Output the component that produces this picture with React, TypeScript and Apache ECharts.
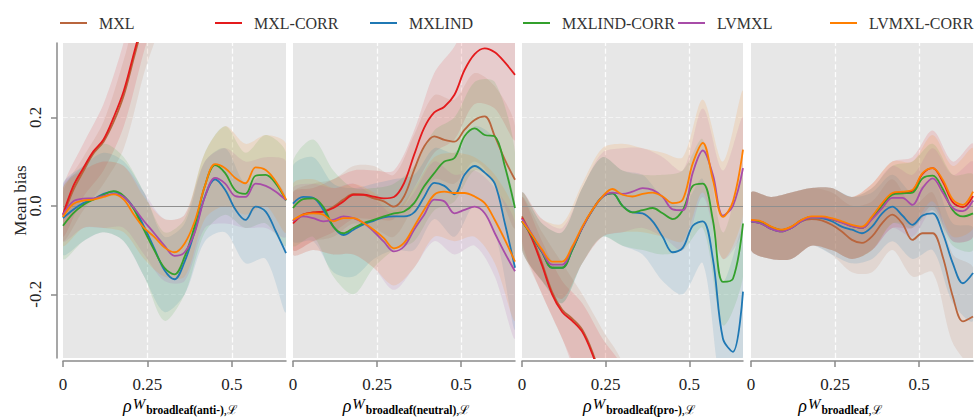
import React, { useEffect, useRef } from 'react';
import * as echarts from 'echarts';

const SERIES_NAMES = ['MXL', 'MXL-CORR', 'MXLIND', 'MXLIND-CORR', 'LVMXL', 'LVMXL-CORR'];
const COLORS = ['#b9653d', '#e41a1c', '#1f78b4', '#33a02c', '#a84ca8', '#ff7f00'];
const PANEL_SUBSCRIPTS = ['broadleaf(anti-)', 'broadleaf(neutral)', 'broadleaf(pro-)', 'broadleaf'];
const X_TICKS = [0, 0.25, 0.5];
const Y_TICKS = [-0.2, 0, 0.2];
const Y_NAME = 'Mean bias';

// x positions of the smoothed lines and of the band edges
const X = [0, 0.03, 0.06, 0.09, 0.12, 0.15, 0.18, 0.21, 0.24, 0.27, 0.3, 0.33, 0.36, 0.39, 0.42, 0.45, 0.48, 0.51, 0.54, 0.57, 0.6, 0.63, 0.66];
const BX = [0, 0.06, 0.12, 0.18, 0.24, 0.3, 0.36, 0.42, 0.48, 0.54, 0.6, 0.66];

const N = null;

// ---- Panel 1: broadleaf(anti-) ----
const P1_MXL = [-0.025, 0.035, 0.078, 0.118, 0.145, 0.19, 0.25, 0.335, 0.42, N, N, N, N, N, N, N, N, N, N, N, N, N, N];
const P1_MXL_CORR = [-0.02, 0.044, 0.085, 0.123, 0.15, 0.2, 0.26, 0.345, 0.43, N, N, N, N, N, N, N, N, N, N, N, N, N, N];
const P1_MXLIND = [-0.028, -0.009, 0.006, 0.015, 0.027, 0.032, 0.021, -0.005, -0.047, -0.096, -0.145, -0.166, -0.126, -0.058, 0.021, 0.06, 0.036, -0.008, -0.032, -0.002, -0.013, -0.058, -0.107];
const P1_MXLIND_CORR = [-0.045, -0.017, 0.002, 0.014, 0.025, 0.033, 0.022, -0.008, -0.055, -0.1, -0.14, -0.155, -0.115, -0.045, 0.045, 0.092, 0.074, 0.035, 0.027, 0.068, 0.07, 0.05, 0.012];
const P1_LVMXL = [-0.02, 0.01, 0.016, 0.017, 0.022, 0.027, 0.02, -0.005, -0.035, -0.062, -0.09, -0.113, -0.105, -0.06, 0.02, 0.063, 0.05, 0.022, 0.02, 0.05, 0.045, 0.032, 0.013];
const P1_LVMXL_CORR = [-0.025, 0.004, 0.012, 0.014, 0.02, 0.026, 0.014, -0.02, -0.05, -0.07, -0.094, -0.105, -0.085, -0.035, 0.045, 0.094, 0.085, 0.063, 0.051, 0.087, 0.081, 0.055, 0.014];

const P1_MXL_LO = [-0.08, -0.01, 0.05, 0.13, 0.3, 0.45, N, N, N, N, N, N];
const P1_MXL_HI = [0.03, 0.11, 0.19, 0.33, 0.5, 0.6, N, N, N, N, N, N];
const P1_MXL_CORR_LO = [-0.07, 0.02, 0.08, 0.18, 0.35, 0.5, N, N, N, N, N, N];
const P1_MXL_CORR_HI = [0.04, 0.14, 0.23, 0.37, 0.55, 0.65, N, N, N, N, N, N];
const P1_MXLIND_LO = [-0.11, -0.08, -0.06, -0.08, -0.16, -0.24, -0.2, -0.08, -0.06, -0.13, -0.12, -0.24];
const P1_MXLIND_HI = [0.05, 0.09, 0.12, 0.1, 0.03, -0.07, -0.04, 0.1, 0.13, 0.05, 0.07, 0.02];
const P1_MXLIND_CORR_LO = [-0.12, -0.08, -0.06, -0.08, -0.16, -0.26, -0.2, -0.06, -0.02, -0.05, -0.04, -0.09];
const P1_MXLIND_CORR_HI = [0.04, 0.09, 0.14, 0.11, 0.03, -0.06, -0.03, 0.12, 0.18, 0.12, 0.16, 0.12];
const P1_LVMXL_LO = [-0.08, -0.05, -0.05, -0.05, -0.11, -0.17, -0.17, -0.05, -0.04, -0.05, -0.05, -0.07];
const P1_LVMXL_HI = [0.05, 0.08, 0.1, 0.09, 0.03, -0.03, -0.02, 0.1, 0.13, 0.1, 0.11, 0.1];
const P1_LVMXL_CORR_LO = [-0.09, -0.05, -0.05, -0.06, -0.12, -0.16, -0.16, -0.03, 0.0, -0.02, 0.0, -0.06];
const P1_LVMXL_CORR_HI = [0.04, 0.08, 0.1, 0.09, 0.02, -0.03, -0.02, 0.12, 0.18, 0.14, 0.16, 0.14];

// ---- Panel 2: broadleaf(neutral) ----
const P2_MXL = [-0.035, -0.02, -0.015, -0.013, -0.002, 0.014, 0.027, 0.025, 0.017, 0.01, -0.002, 0.021, 0.081, 0.134, 0.157, 0.149, 0.145, 0.172, 0.194, 0.202, 0.157, 0.104, 0.059];
const P2_MXL_CORR = [-0.04, -0.02, -0.015, -0.013, -0.005, 0.01, 0.025, 0.025, 0.021, 0.017, 0.02, 0.051, 0.115, 0.176, 0.211, 0.224, 0.251, 0.307, 0.343, 0.356, 0.347, 0.324, 0.296];
const P2_MXLIND = [0.005, 0.02, 0.018, -0.009, -0.047, -0.066, -0.054, -0.042, -0.034, -0.026, -0.024, -0.024, -0.015, 0.02, 0.052, 0.045, 0.026, 0.07, 0.09, 0.075, 0.05, -0.04, -0.14];
const P2_MXLIND_CORR = [-0.005, 0.015, 0.017, -0.002, -0.047, -0.062, -0.05, -0.039, -0.032, -0.024, -0.017, -0.013, 0.006, 0.044, 0.074, 0.1, 0.108, 0.157, 0.175, 0.16, 0.157, 0.089, -0.005];
const P2_LVMXL = [-0.035, -0.024, -0.028, -0.035, -0.032, -0.024, -0.028, -0.039, -0.058, -0.081, -0.103, -0.092, -0.054, -0.02, 0.014, 0.01, -0.017, -0.009, -0.002, -0.017, -0.062, -0.107, -0.148];
const P2_LVMXL_CORR = [-0.032, -0.02, -0.017, -0.02, -0.035, -0.028, -0.028, -0.039, -0.054, -0.073, -0.096, -0.084, -0.047, -0.009, 0.025, 0.032, 0.029, 0.029, 0.021, 0.006, -0.032, -0.077, -0.126];

const P2_MXL_LO = [-0.1, -0.08, -0.07, -0.04, -0.05, -0.07, 0.0, 0.06, 0.05, 0.1, 0.05, -0.05];
const P2_MXL_HI = [0.03, 0.05, 0.06, 0.09, 0.09, 0.07, 0.16, 0.25, 0.24, 0.3, 0.27, 0.18];
const P2_MXL_CORR_LO = [-0.1, -0.08, -0.06, -0.03, -0.03, -0.03, 0.04, 0.12, 0.15, 0.23, 0.22, 0.15];
const P2_MXL_CORR_HI = [0.03, 0.04, 0.06, 0.08, 0.08, 0.08, 0.17, 0.3, 0.36, 0.45, 0.48, 0.45];
const P2_MXLIND_LO = [-0.08, -0.08, -0.15, -0.16, -0.12, -0.1, -0.1, -0.03, -0.07, 0.0, -0.06, -0.28];
const P2_MXLIND_HI = [0.09, 0.11, 0.05, 0.04, 0.05, 0.06, 0.07, 0.13, 0.12, 0.18, 0.15, 0.0];
const P2_MXLIND_CORR_LO = [-0.09, -0.07, -0.16, -0.2, -0.14, -0.1, -0.08, -0.01, 0.01, 0.08, 0.05, -0.12];
const P2_MXLIND_CORR_HI = [0.1, 0.15, 0.08, 0.04, 0.04, 0.05, 0.09, 0.17, 0.2, 0.28, 0.28, 0.12];
const P2_LVMXL_LO = [-0.11, -0.1, -0.11, -0.11, -0.14, -0.19, -0.14, -0.08, -0.11, -0.09, -0.16, -0.3];
const P2_LVMXL_HI = [0.04, 0.05, 0.04, 0.05, 0.02, -0.02, 0.03, 0.1, 0.07, 0.08, 0.04, -0.04];
const P2_LVMXL_CORR_LO = [-0.11, -0.1, -0.11, -0.11, -0.14, -0.18, -0.14, -0.07, -0.08, -0.07, -0.13, -0.26];
const P2_LVMXL_CORR_HI = [0.05, 0.06, 0.04, 0.05, 0.03, -0.01, 0.04, 0.11, 0.12, 0.11, 0.07, -0.02];

// ---- Panel 3: broadleaf(pro-) ----
const P3_MXL = [-0.024, -0.07, -0.13, -0.195, -0.235, -0.255, -0.28, -0.33, -0.4, N, N, N, N, N, N, N, N, N, N, N, N, N, N];
const P3_MXL_CORR = [-0.027, -0.075, -0.135, -0.2, -0.24, -0.26, -0.285, -0.335, -0.4, N, N, N, N, N, N, N, N, N, N, N, N, N, N];
const P3_MXLIND = [-0.035, -0.068, -0.105, -0.14, -0.14, -0.1, -0.05, -0.01, 0.02, 0.028, 0.0, -0.015, -0.017, -0.035, -0.07, -0.105, -0.095, -0.045, -0.035, -0.12, -0.3, -0.33, -0.194];
const P3_MXLIND_CORR = [-0.035, -0.068, -0.105, -0.14, -0.14, -0.1, -0.05, -0.01, 0.02, 0.028, 0.0, -0.015, -0.01, -0.005, -0.017, -0.03, -0.01, 0.045, 0.05, -0.032, -0.172, -0.165, -0.04];
const P3_LVMXL = [-0.03, -0.065, -0.103, -0.133, -0.133, -0.095, -0.05, -0.01, 0.02, 0.03, 0.027, 0.032, 0.04, 0.036, 0.02, -0.008, -0.01, 0.075, 0.125, 0.07, -0.022, 0.0, 0.085];
const P3_LVMXL_CORR = [-0.035, -0.066, -0.099, -0.126, -0.126, -0.092, -0.047, -0.009, 0.021, 0.038, 0.025, 0.021, 0.027, 0.03, 0.021, 0.006, 0.014, 0.096, 0.142, 0.059, -0.025, 0.01, 0.127];

const P3_MXL_LO = [-0.09, -0.2, -0.3, -0.4, -0.5, -0.55, N, N, N, N, N, N];
const P3_MXL_HI = [0.02, -0.06, -0.13, -0.2, -0.28, -0.36, N, N, N, N, N, N];
const P3_MXL_CORR_LO = [-0.08, -0.2, -0.3, -0.42, -0.5, -0.55, N, N, N, N, N, N];
const P3_MXL_CORR_HI = [0.02, -0.08, -0.17, -0.22, -0.3, -0.37, N, N, N, N, N, N];
const P3_MXLIND_LO = [-0.1, -0.17, -0.22, -0.13, -0.07, -0.09, -0.11, -0.17, -0.2, -0.13, -0.42, -0.34];
const P3_MXLIND_HI = [0.03, -0.04, -0.06, 0.04, 0.11, 0.08, 0.07, 0.02, 0.0, 0.06, -0.17, -0.05];
const P3_MXLIND_CORR_LO = [-0.1, -0.17, -0.22, -0.13, -0.07, -0.09, -0.1, -0.11, -0.1, -0.05, -0.27, -0.16];
const P3_MXLIND_CORR_HI = [0.03, -0.04, -0.06, 0.04, 0.11, 0.08, 0.07, 0.07, 0.08, 0.15, -0.06, 0.08];
const P3_LVMXL_LO = [-0.1, -0.17, -0.21, -0.13, -0.07, -0.06, -0.05, -0.07, -0.1, 0.02, -0.12, -0.05];
const P3_LVMXL_HI = [0.03, -0.03, -0.05, 0.04, 0.12, 0.13, 0.13, 0.11, 0.08, 0.22, 0.08, 0.2];
const P3_LVMXL_CORR_LO = [-0.1, -0.17, -0.21, -0.13, -0.07, -0.06, -0.06, -0.07, -0.08, 0.03, -0.12, -0.02];
const P3_LVMXL_CORR_HI = [0.03, -0.03, -0.04, 0.05, 0.13, 0.14, 0.13, 0.12, 0.11, 0.24, 0.1, 0.26];

// ---- Panel 4: broadleaf ----
const P4_MXL = [-0.035, -0.04, -0.052, -0.058, -0.05, -0.035, -0.03, -0.033, -0.043, -0.058, -0.077, -0.084, -0.069, -0.039, -0.02, -0.04, -0.077, -0.062, -0.062, -0.115, -0.205, -0.261, -0.25];
const P4_MXL_CORR = [-0.033, -0.036, -0.048, -0.055, -0.048, -0.033, -0.025, -0.025, -0.03, -0.037, -0.045, -0.05, -0.026, 0.004, 0.027, 0.03, 0.034, 0.072, 0.085, 0.055, 0.008, -0.003, 0.022];
const P4_MXLIND = [-0.035, -0.04, -0.052, -0.058, -0.05, -0.035, -0.026, -0.028, -0.035, -0.047, -0.054, -0.062, -0.047, -0.017, -0.002, -0.022, -0.043, -0.022, -0.017, -0.062, -0.13, -0.175, -0.152];
const P4_MXLIND_CORR = [-0.035, -0.037, -0.048, -0.055, -0.048, -0.033, -0.025, -0.025, -0.03, -0.037, -0.046, -0.05, -0.028, 0.0, 0.025, 0.028, 0.03, 0.062, 0.068, 0.038, -0.01, -0.024, -0.017];
const P4_LVMXL = [-0.035, -0.04, -0.052, -0.058, -0.05, -0.035, -0.026, -0.026, -0.03, -0.038, -0.046, -0.05, -0.03, -0.005, 0.018, 0.018, 0.002, 0.04, 0.062, 0.03, -0.005, -0.012, 0.012];
const P4_LVMXL_CORR = [-0.032, -0.035, -0.047, -0.054, -0.047, -0.032, -0.024, -0.024, -0.028, -0.035, -0.043, -0.047, -0.024, 0.006, 0.029, 0.032, 0.036, 0.074, 0.085, 0.059, 0.014, 0.002, 0.032];

const P4_MXL_LO = [-0.1, -0.12, -0.12, -0.09, -0.11, -0.15, -0.15, -0.1, -0.16, -0.15, -0.31, -0.36];
const P4_MXL_HI = [0.03, 0.02, 0.03, 0.04, 0.03, 0.0, 0.01, 0.06, 0.0, 0.03, -0.11, -0.14];
const P4_MXL_CORR_LO = [-0.1, -0.12, -0.12, -0.09, -0.1, -0.12, -0.1, -0.05, -0.05, 0.0, -0.08, -0.07];
const P4_MXL_CORR_HI = [0.03, 0.02, 0.03, 0.04, 0.04, 0.02, 0.05, 0.1, 0.11, 0.17, 0.1, 0.14];
const P4_MXLIND_LO = [-0.1, -0.12, -0.12, -0.09, -0.11, -0.13, -0.12, -0.08, -0.12, -0.1, -0.22, -0.26];
const P4_MXLIND_HI = [0.03, 0.02, 0.03, 0.04, 0.04, 0.02, 0.03, 0.07, 0.03, 0.06, -0.04, -0.05];
const P4_MXLIND_CORR_LO = [-0.1, -0.12, -0.12, -0.09, -0.1, -0.12, -0.1, -0.04, -0.05, -0.01, -0.09, -0.1];
const P4_MXLIND_CORR_HI = [0.03, 0.02, 0.03, 0.04, 0.04, 0.02, 0.04, 0.09, 0.1, 0.14, 0.07, 0.07];
const P4_LVMXL_LO = [-0.1, -0.12, -0.12, -0.09, -0.1, -0.12, -0.1, -0.05, -0.07, -0.01, -0.08, -0.07];
const P4_LVMXL_HI = [0.03, 0.02, 0.03, 0.04, 0.04, 0.02, 0.04, 0.09, 0.07, 0.13, 0.07, 0.1];
const P4_LVMXL_CORR_LO = [-0.1, -0.12, -0.12, -0.09, -0.1, -0.12, -0.1, -0.04, -0.04, 0.01, -0.07, -0.05];
const P4_LVMXL_CORR_HI = [0.03, 0.02, 0.03, 0.04, 0.04, 0.02, 0.05, 0.1, 0.1, 0.16, 0.09, 0.13];

const PANEL_LINES = [
  [P1_MXL, P1_MXL_CORR, P1_MXLIND, P1_MXLIND_CORR, P1_LVMXL, P1_LVMXL_CORR],
  [P2_MXL, P2_MXL_CORR, P2_MXLIND, P2_MXLIND_CORR, P2_LVMXL, P2_LVMXL_CORR],
  [P3_MXL, P3_MXL_CORR, P3_MXLIND, P3_MXLIND_CORR, P3_LVMXL, P3_LVMXL_CORR],
  [P4_MXL, P4_MXL_CORR, P4_MXLIND, P4_MXLIND_CORR, P4_LVMXL, P4_LVMXL_CORR],
];
const PANEL_LO = [
  [P1_MXL_LO, P1_MXL_CORR_LO, P1_MXLIND_LO, P1_MXLIND_CORR_LO, P1_LVMXL_LO, P1_LVMXL_CORR_LO],
  [P2_MXL_LO, P2_MXL_CORR_LO, P2_MXLIND_LO, P2_MXLIND_CORR_LO, P2_LVMXL_LO, P2_LVMXL_CORR_LO],
  [P3_MXL_LO, P3_MXL_CORR_LO, P3_MXLIND_LO, P3_MXLIND_CORR_LO, P3_LVMXL_LO, P3_LVMXL_CORR_LO],
  [P4_MXL_LO, P4_MXL_CORR_LO, P4_MXLIND_LO, P4_MXLIND_CORR_LO, P4_LVMXL_LO, P4_LVMXL_CORR_LO],
];
const PANEL_HI = [
  [P1_MXL_HI, P1_MXL_CORR_HI, P1_MXLIND_HI, P1_MXLIND_CORR_HI, P1_LVMXL_HI, P1_LVMXL_CORR_HI],
  [P2_MXL_HI, P2_MXL_CORR_HI, P2_MXLIND_HI, P2_MXLIND_CORR_HI, P2_LVMXL_HI, P2_LVMXL_CORR_HI],
  [P3_MXL_HI, P3_MXL_CORR_HI, P3_MXLIND_HI, P3_MXLIND_CORR_HI, P3_LVMXL_HI, P3_LVMXL_CORR_HI],
  [P4_MXL_HI, P4_MXL_CORR_HI, P4_MXLIND_HI, P4_MXLIND_CORR_HI, P4_LVMXL_HI, P4_LVMXL_CORR_HI],
];

// layout
const GRID_LEFT = [63, 293, 522, 751];
const GRID_WIDTH = [223, 222, 221, 222];
const GRID_TOP = 43;
const GRID_HEIGHT = 315;
const TITLE_X = [180, 406, 639, 840];
const LEGEND_X = [60, 215, 370, 523, 678, 830];
const FONT = "'Liberation Serif', 'DejaVu Serif', 'Times New Roman', serif";
const AXIS_GREY = '#8a8a8a';

const pairs = (xs: number[], ys: (number | null)[]) =>
  xs.map((x, i) => [x, ys[i] == null ? '-' : ys[i]]);

// band polygon drawn through the axes' own scales (api.coord)
function bandRenderer(color: string) {
  return (params: any, api: any) => {
    if (params.dataIndexInside !== 0) return null;
    const n = params.dataInsideLength;
    const upper: number[][] = [];
    const lower: number[][] = [];
    for (let i = 0; i < n; i++) {
      const x = api.value(0, i);
      const lo = api.value(1, i);
      const hi = api.value(2, i);
      if (isNaN(lo) || isNaN(hi)) continue;
      upper.push(api.coord([x, hi]));
      lower.push(api.coord([x, lo]));
    }
    if (upper.length < 2) return null;
    const points = upper.concat(lower.reverse());
    const cs = params.coordSys;
    return {
      type: 'group',
      clipPath: { type: 'rect', shape: { x: cs.x, y: cs.y, width: cs.width, height: cs.height } },
      children: [
        {
          type: 'polygon',
          shape: { points, smooth: 0.3 },
          style: { fill: color, opacity: 0.13, stroke: 'none' },
          silent: true,
        },
      ],
    };
  };
}

function buildOption(): any {
  const grid: any[] = [];
  const xAxis: any[] = [];
  const yAxis: any[] = [];
  const series: any[] = [];

  for (let p = 0; p < 4; p++) {
    grid.push({
      left: GRID_LEFT[p], top: GRID_TOP, width: GRID_WIDTH[p], height: GRID_HEIGHT,
      show: true, backgroundColor: '#e7e7e7', borderWidth: 0,
    });
    xAxis.push({
      type: 'value', gridIndex: p, min: 0, max: 0.66, offset: 3,
      axisLine: { show: true, onZero: false, lineStyle: { color: AXIS_GREY, width: 1.5 } },
      axisTick: { show: true, length: 6, customValues: X_TICKS, lineStyle: { color: AXIS_GREY, width: 1.5 } },
      axisLabel: {
        customValues: X_TICKS, margin: 15, fontSize: 17, lineHeight: 17, color: '#222', fontFamily: FONT,
        formatter: (v: number) => String(v),
      },
      splitLine: { show: false },
    });
    if (p === 0) {
      yAxis.push({
        type: 'value', gridIndex: 0, min: -0.344, max: 0.368, offset: 6,
        axisLine: { show: true, onZero: false, lineStyle: { color: AXIS_GREY, width: 1.5 } },
        axisTick: { show: true, length: 6, customValues: Y_TICKS, lineStyle: { color: AXIS_GREY, width: 1.5 } },
        axisLabel: {
          customValues: Y_TICKS, rotate: 90, margin: 13, fontSize: 17, color: '#222', fontFamily: FONT,
          formatter: (v: number) => v.toFixed(1),
        },
        splitLine: { show: false },
        name: Y_NAME, nameLocation: 'middle', nameGap: 28, nameMoveOverlap: false,
        nameTextStyle: { fontSize: 17, color: '#222', fontFamily: FONT },
      });
    } else {
      yAxis.push({ type: 'value', gridIndex: p, min: -0.344, max: 0.368, show: false, splitLine: { show: false } });
    }

    // reference lines (white dashed grid and grey zero line), carried by empty line series
    series.push({
      type: 'line', xAxisIndex: p, yAxisIndex: p, data: [], silent: true, z: 1,
      markLine: {
        silent: true, symbol: ['none', 'none'], label: { show: false }, z: 1, animation: false,
        lineStyle: { color: '#ffffff', type: 'dashed', width: 1.3, opacity: 0.9 },
        emphasis: { disabled: true },
        data: [
          { xAxis: 0.25 },
          { xAxis: 0.5 },
          { yAxis: 0.2, lineStyle: { color: '#ffffff', type: 'dashed', width: 1.2, opacity: 0.55 } },
          { yAxis: -0.2, lineStyle: { color: '#ffffff', type: 'dashed', width: 1.2, opacity: 0.55 } },
        ],
      },
    });
    series.push({
      type: 'line', xAxisIndex: p, yAxisIndex: p, data: [], silent: true, z: 3,
      markLine: {
        silent: true, symbol: ['none', 'none'], label: { show: false }, z: 3, animation: false,
        lineStyle: { color: '#8f8f8f', type: 'solid', width: 1.2 },
        emphasis: { disabled: true },
        data: [{ yAxis: 0 }],
      },
    });

    // confidence bands
    for (let s = 0; s < 6; s++) {
      const lo = PANEL_LO[p][s];
      const hi = PANEL_HI[p][s];
      series.push({
        type: 'custom', xAxisIndex: p, yAxisIndex: p, silent: true, z: 2,
        data: BX.map((x, i) => [x, lo[i] == null ? NaN : lo[i], hi[i] == null ? NaN : hi[i]]),
        encode: { x: 0, y: [1, 2] },
        renderItem: bandRenderer(COLORS[s]),
      });
    }
    // mean lines
    for (let s = 0; s < 6; s++) {
      series.push({
        type: 'line', name: SERIES_NAMES[s], xAxisIndex: p, yAxisIndex: p,
        data: pairs(X, PANEL_LINES[p][s]), smooth: 0.35, symbol: 'none', showSymbol: false,
        color: COLORS[s], lineStyle: { color: COLORS[s], width: 1.8 }, z: 4, silent: true,
      });
    }
  }

  const legend = SERIES_NAMES.map((n, i) => ({
    data: [n], left: LEGEND_X[i], top: 15, padding: 0, itemGap: 0,
    icon: 'rect', itemWidth: 27, itemHeight: 2, selectedMode: false,
    textStyle: { fontSize: 16, color: '#333', fontFamily: FONT, padding: [0, 0, 0, 7] },
  }));

  const rich = {
    r: { fontSize: 18, lineHeight: 18, fontFamily: FONT, fontStyle: 'italic', color: '#222', verticalAlign: 'bottom', padding: [0, 1, 1, 0] },
    w: { fontSize: 15, lineHeight: 15, fontFamily: FONT, fontStyle: 'italic', color: '#222', verticalAlign: 'bottom', padding: [0, 1, 5, 0] },
    s: { fontSize: 11.5, lineHeight: 12, fontFamily: FONT, fontWeight: 'bold', color: '#222', verticalAlign: 'bottom', padding: [0, 0, 0, 0] },
    c: { fontSize: 12.5, lineHeight: 13, fontFamily: FONT, color: '#222', verticalAlign: 'bottom', padding: [0, 0, 0, 0] },
  };
  const graphic = TITLE_X.map((cx, p) => ({
    type: 'text', x: cx, y: 407, silent: true,
    style: {
      text: `{r|ρ}{w|W}{s|${PANEL_SUBSCRIPTS[p]}}{c|,ℒ}`,
      align: 'center', verticalAlign: 'middle', rich,
    },
  }));

  return {
    animation: false,
    backgroundColor: '#ffffff',
    textStyle: { fontFamily: FONT },
    grid, xAxis, yAxis, series, legend, graphic,
  };
}

export default function App() {
  const ref = useRef<HTMLDivElement>(null);
  useEffect(() => {
    if (!ref.current) return;
    const chart = echarts.init(ref.current, undefined, { renderer: 'svg' });
    chart.setOption(buildOption());
    return () => chart.dispose();
  }, []);
  return (
    <div
      ref={ref}
      style={{ position: 'absolute', left: 0, top: 0, width: 975, height: 418, background: '#fff' }}
    />
  );
}
